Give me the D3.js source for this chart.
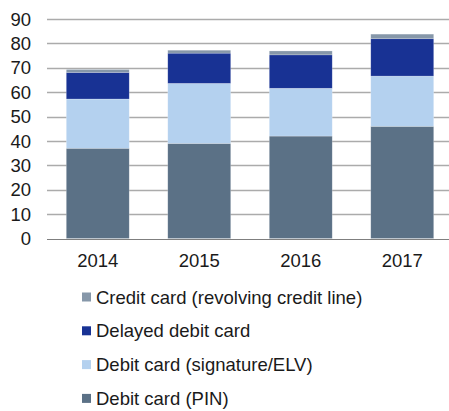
<!DOCTYPE html>
<html lang="en">
<head>
    <meta charset="UTF-8">
    <title>Card payments</title>
    <script src="https://d3js.org/d3.v7.min.js"></script>
    <style>
        body { margin: 0; background: #fff; }
        text { font-family: "Liberation Sans", Arial, sans-serif; fill: #1a1a1a; }
    </style>
</head>
<body>
    <div id="chart"></div>
    <script>
        // data
        var years = ["2014", "2015", "2016", "2017"];
        var debitPin = [37, 39, 42, 46];
        var debitSignature = [20.2, 24.6, 19.6, 20.6];
        var delayedDebit = [10.9, 12.4, 13.7, 15.3];
        var creditCard = [1.2, 1.2, 1.6, 1.9];
        var yTicks = [0, 10, 20, 30, 40, 50, 60, 70, 80, 90];

        var seriesNames = ["Debit card (PIN)", "Debit card (signature/ELV)", "Delayed debit card", "Credit card (revolving credit line)"];
        var seriesKeys = ["pin", "sig", "delayed", "credit"];
        var colors = ["#5b7186", "#b4d1ef", "#183294", "#8697a9"];

        var rows = years.map(function(y, i) {
            return { year: y, pin: debitPin[i], sig: debitSignature[i], delayed: delayedDebit[i], credit: creditCard[i] };
        });

        var width = 449, height = 411;
        var svg = d3.select("#chart").append("svg")
            .attr("width", width)
            .attr("height", height);

        var x = d3.scaleBand()
            .domain(years)
            .range([47, 453])
            .paddingInner(0.38)
            .paddingOuter(0.19);

        var y = d3.scaleLinear()
            .domain([0, 90])
            .range([238.5, 19]);

        // gridlines
        svg.append("g")
            .selectAll("line")
            .data(yTicks.slice(1))
            .enter()
            .append("line")
            .attr("x1", 47)
            .attr("x2", width)
            .attr("y1", function(d) { return Math.round(y(d)) + 0.5; })
            .attr("y2", function(d) { return Math.round(y(d)) + 0.5; })
            .attr("stroke", "#ababab")
            .attr("stroke-width", 1.3);

        var stack = d3.stack().keys(seriesKeys);
        var layers = stack(rows);

        svg.append("g")
            .selectAll("g")
            .data(layers)
            .enter()
            .append("g")
            .attr("fill", function(d, i) { return colors[i]; })
            .selectAll("rect")
            .data(function(d) { return d; })
            .enter()
            .append("rect")
            .attr("x", function(d) { return x(d.data.year); })
            .attr("y", function(d) { return y(d[1]); })
            .attr("width", x.bandwidth())
            .attr("height", function(d) { return y(d[0]) - y(d[1]); })
            .attr("stroke", "rgba(255,255,255,0.35)")
            .attr("stroke-width", 0.6);

        // y axis labels
        svg.append("g")
            .selectAll("text")
            .data(yTicks)
            .enter()
            .append("text")
            .attr("x", 31)
            .attr("y", function(d) { return y(d); })
            .attr("dy", "0.36em")
            .attr("text-anchor", "end")
            .attr("font-size", "18.5px")
            .text(function(d) { return d; });

        // baseline
        svg.append("line")
            .attr("x1", 47)
            .attr("x2", width)
            .attr("y1", Math.round(y(0)) + 0.5)
            .attr("y2", Math.round(y(0)) + 0.5)
            .attr("stroke", "#7f7f7f")
            .attr("stroke-width", 1.2);

        // x labels
        svg.append("g")
            .selectAll("text")
            .data(years)
            .enter()
            .append("text")
            .attr("x", function(d) { return x(d) + x.bandwidth() / 2; })
            .attr("y", 260)
            .attr("dy", "0.36em")
            .attr("text-anchor", "middle")
            .attr("font-size", "18.5px")
            .text(function(d) { return d; });

        // legend, top entry is the top series
        var legendOrder = [3, 2, 1, 0];
        var legend = svg.append("g")
            .selectAll("g")
            .data(legendOrder)
            .enter()
            .append("g")
            .attr("transform", function(d, i) { return "translate(82," + (297 + i * 33.8) + ")"; });

        legend.append("rect")
            .attr("x", 0)
            .attr("y", -4.5)
            .attr("width", 9)
            .attr("height", 9)
            .attr("fill", function(d) { return colors[d]; });

        legend.append("text")
            .attr("x", 14)
            .attr("y", 0)
            .attr("dy", "0.36em")
            .attr("font-size", "18.5px")
            .text(function(d) { return seriesNames[d]; });
    </script>
</body>
</html>
